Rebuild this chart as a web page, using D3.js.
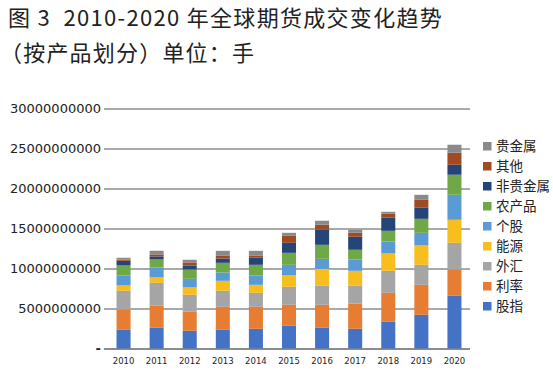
<!DOCTYPE html>
<html>
<head>
<meta charset="utf-8">
<script src="https://cdn.jsdelivr.net/npm/d3@7"></script>
<style>
  body { margin: 0; background: #fff; }
  text { fill: #222; }
</style>
</head>
<body>
<svg width="553" height="374"></svg>
<script>
// values, in 手
const years = ["2010", "2011", "2012", "2013", "2014", "2015", "2016", "2017", "2018", "2019", "2020"];
const seriesNames = ["股指", "利率", "外汇", "能源", "个股", "农产品", "非贵金属", "其他", "贵金属"];
const seriesColors = ["#4472C4", "#E67D33", "#A5A5A5", "#F7BE1E", "#5B9BD5", "#6EA847", "#254478", "#9E4A22", "#8A8A8A"];
const yTicks = [0, 5000000000, 10000000000, 15000000000, 20000000000, 25000000000, 30000000000];

const guzhi = [2.38e9, 2.63e9, 2.21e9, 2.38e9, 2.46e9, 2.88e9, 2.63e9, 2.46e9, 3.38e9, 4.21e9, 6.63e9];
const lilv = [2.5e9, 2.75e9, 2.42e9, 2.83e9, 2.75e9, 2.58e9, 2.83e9, 3.17e9, 3.58e9, 3.75e9, 3.25e9];
const waihui = [2.33e9, 2.83e9, 2.08e9, 2.0e9, 1.75e9, 2.25e9, 2.42e9, 2.25e9, 2.75e9, 2.5e9, 3.33e9];
const nengyuan = [0.67e9, 0.67e9, 0.92e9, 1.25e9, 1.0e9, 1.42e9, 2.08e9, 1.83e9, 2.17e9, 2.42e9, 2.88e9];
const gegu = [1.25e9, 1.25e9, 1.08e9, 1.04e9, 1.17e9, 1.33e9, 1.25e9, 1.42e9, 1.5e9, 1.58e9, 3.13e9];
const nongchanpin = [1.25e9, 1.0e9, 1.17e9, 1.21e9, 1.33e9, 1.5e9, 1.75e9, 1.21e9, 1.33e9, 1.75e9, 2.5e9];
const feiguijinshu = [0.58e9, 0.38e9, 0.5e9, 0.54e9, 0.92e9, 1.25e9, 1.88e9, 1.63e9, 1.67e9, 1.38e9, 1.25e9];
const qita = [0.13e9, 0.25e9, 0.38e9, 0.38e9, 0.25e9, 0.92e9, 0.63e9, 0.5e9, 0.46e9, 1.04e9, 1.5e9];
const guijinshu = [0.25e9, 0.46e9, 0.33e9, 0.58e9, 0.58e9, 0.33e9, 0.5e9, 0.38e9, 0.25e9, 0.58e9, 1.0e9];

const seriesValues = [guzhi, lilv, waihui, nengyuan, gegu, nongchanpin, feiguijinshu, qita, guijinshu];

// table for d3.stack
let table = years.map(function(y, i) {
  let row = { year: y };
  seriesNames.forEach(function(name, k) {
    row[name] = seriesValues[k][i];
  });
  return row;
});

let svg = d3.select("svg");

// TITLE
let title = svg.append("g")
  .attr("font-family", "'Noto Sans CJK SC', sans-serif")
  .attr("font-size", 22);
title.append("text")
  .attr("x", 8)
  .attr("y", 26)
  .attr("letter-spacing", 1.3)
  .style("white-space", "pre")
  .text("图 3  2010-2020 年全球期货成交变化趋势");
title.append("text")
  .attr("x", 0)
  .attr("y", 61)
  .attr("letter-spacing", 1.2)
  .style("white-space", "pre")
  .text("（按产品划分）单位：手");

let xScale = d3.scaleBand()
  .domain(years)
  .range([107, 471])
  .paddingInner(0.576)
  .paddingOuter(0.288);

let yScale = d3.scaleLinear()
  .domain([0, 30000000000])
  .range([348.5, 108.5]);

// Y AXIS + GRID
let yAxis = svg.append("g")
  .attr("class", "y axis")
  .attr("transform", "translate(104,0)")
  .call(
    d3.axisLeft(yScale)
      .tickValues(yTicks)
      .tickSize(-366)
      .tickPadding(3)
      .tickFormat(function(d) {
        return d === 0 ? "-" : d3.format("d")(d);
      })
  );
yAxis.select(".domain").remove();
yAxis.selectAll("line")
  .attr("stroke", "#8c8c8c")
  .attr("stroke-width", function(d) {
    return d === 0 ? 2 : 1.3;
  });
yAxis.selectAll("text")
  .attr("font-family", "'DejaVu Sans', sans-serif")
  .attr("font-size", 13)
  .attr("fill", "#333")
  .attr("font-weight", function(d) {
    return d === 0 ? "bold" : "normal";
  });

// BARS
let stacked = d3.stack().keys(seriesNames)(table);

svg.append("g")
  .selectAll("g")
  .data(stacked)
  .enter()
  .append("g")
  .attr("fill", function(d, i) {
    return seriesColors[i];
  })
  .selectAll("rect")
  .data(function(d) {
    return d;
  })
  .enter()
  .append("rect")
  .attr("x", function(d) {
    return xScale(d.data.year);
  })
  .attr("y", function(d) {
    return yScale(d[1]);
  })
  .attr("width", xScale.bandwidth())
  .attr("height", function(d) {
    return yScale(d[0]) - yScale(d[1]);
  });

// X AXIS
let xAxis = svg.append("g")
  .attr("class", "x axis")
  .attr("transform", "translate(0,348.5)")
  .call(d3.axisBottom(xScale).tickSize(0).tickPadding(9));
xAxis.select(".domain").remove();
xAxis.selectAll("text")
  .attr("font-family", "'DejaVu Sans', sans-serif")
  .attr("font-size", 8.5)
  .attr("fill", "#222");

// LEGEND (top to bottom is reverse of stack order)
let legend = svg.append("g")
  .selectAll("g")
  .data(seriesNames.slice().reverse())
  .enter()
  .append("g")
  .attr("transform", function(d, i) {
    return "translate(483," + (142 + i * 20) + ")";
  });
legend.append("rect")
  .attr("width", 8.5)
  .attr("height", 8.5)
  .attr("fill", function(d) {
    return seriesColors[seriesNames.indexOf(d)];
  });
legend.append("text")
  .attr("x", 13)
  .attr("y", 4.5)
  .attr("dy", ".36em")
  .attr("font-family", "'Noto Sans CJK SC', sans-serif")
  .attr("font-size", 13.5)
  .text(function(d) {
    return d;
  });
</script>
</body>
</html>
